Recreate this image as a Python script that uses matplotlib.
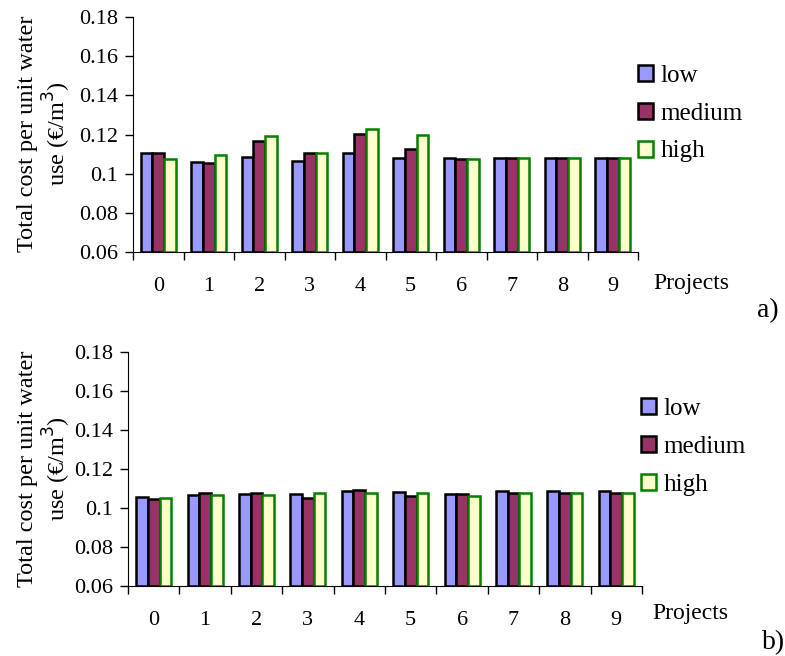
import numpy as np
import matplotlib
matplotlib.use('Agg')
import matplotlib.pyplot as plt
from matplotlib.patches import Patch

plt.rcParams['font.family'] = ['Liberation Serif', 'DejaVu Serif']

# Datos
projects = ['0', '1', '2', '3', '4', '5', '6', '7', '8', '9']
series = ['low', 'medium', 'high']

a_low = [0.1104, 0.1060, 0.1087, 0.1065, 0.1104, 0.1080, 0.1080, 0.1080, 0.1080, 0.1080]
a_medium = [0.1106, 0.1053, 0.1167, 0.1106, 0.1204, 0.1126, 0.1073, 0.1082, 0.1082, 0.1082]
a_high = [0.1077, 0.1097, 0.1190, 0.1107, 0.1228, 0.1200, 0.1075, 0.1080, 0.1080, 0.1079]

b_low = [0.1054, 0.1068, 0.1071, 0.1070, 0.1085, 0.1083, 0.1070, 0.1087, 0.1087, 0.1087]
b_medium = [0.1046, 0.1076, 0.1075, 0.1049, 0.1090, 0.1063, 0.1073, 0.1078, 0.1078, 0.1078]
b_high = [0.1049, 0.1065, 0.1065, 0.1076, 0.1075, 0.1078, 0.1061, 0.1075, 0.1075, 0.1076]

yticks = [0.06, 0.08, 0.1, 0.12, 0.14, 0.16, 0.18]
ytick_labels = ['0.06', '0.08', '0.1', '0.12', '0.14', '0.16', '0.18']

face = ['#9999FF', '#993366', '#FFFFCC']
edge = ['black', 'black', '#008000']

W, H = 785, 656
fig = plt.figure(figsize=(W / 100, H / 100), dpi=100)


def fx(px):
    return px / W


def fy(py):
    return 1 - py / H


ax_a = fig.add_axes([fx(133), fy(252), fx(638) - fx(133), fy(17) - fy(252)])
ax_b = fig.add_axes([fx(128), fy(586), fx(642) - fx(128), fy(352) - fy(586)])


def draw_panel(ax, vals, letter, ylab_y, proj_pos, letter_pos, legend_top):
    x = np.arange(len(projects))
    w = 0.228
    for i, v in enumerate(vals):
        ax.bar(x + (i - 1) * w, np.array(v) - 0.06, w, bottom=0.06,
               color=face[i], edgecolor=edge[i], linewidth=1.8, zorder=3)
    ax.set_xlim(-0.5, len(projects) - 0.5)
    ax.set_ylim(0.06, 0.18)
    ax.set_yticks(yticks)
    ax.set_yticklabels(ytick_labels, fontsize=16)
    ax.set_xticks(np.arange(-0.5, len(projects), 1.0))
    ax.set_xticklabels([])
    ax.set_xticks(x, minor=True)
    ax.set_xticklabels(projects, minor=True, fontsize=16)
    ax.tick_params(axis='x', which='major', direction='out', length=6, width=1)
    ax.tick_params(axis='x', which='minor', length=0, pad=18)
    ax.tick_params(axis='y', direction='out', length=6, width=1, pad=5)
    for s in ['top', 'right']:
        ax.spines[s].set_visible(False)
    fig.text(fx(45), fy(ylab_y), 'Total cost per unit water\nuse (€/m$^3$)',
             fontsize=17.5, rotation=90, ha='center', va='center',
             linespacing=1.15, multialignment='center')
    fig.text(fx(proj_pos[0]), fy(proj_pos[1]), 'Projects', fontsize=17,
             ha='left', va='center')
    fig.text(fx(letter_pos[0]), fy(letter_pos[1]), letter, fontsize=20,
             ha='left', va='center')
    handles = [Patch(facecolor=face[i], edgecolor=edge[i], linewidth=1.8,
                     label=series[i]) for i in range(3)]
    ax.legend(handles=handles, loc='upper left',
              bbox_to_anchor=(fx(legend_top[0]), fy(legend_top[1])),
              bbox_transform=fig.transFigure, frameon=False, fontsize=18,
              handlelength=0.6, handleheight=0.6, handletextpad=0.3,
              labelspacing=0.63, borderaxespad=0, borderpad=0)


draw_panel(ax_a, [a_low, a_medium, a_high], 'a)', 134, (653, 284), (757, 311), (638, 65))
draw_panel(ax_b, [b_low, b_medium, b_high], 'b)', 469, (652, 614), (762, 643), (641, 398))

fig.savefig('out.png', dpi=100)
